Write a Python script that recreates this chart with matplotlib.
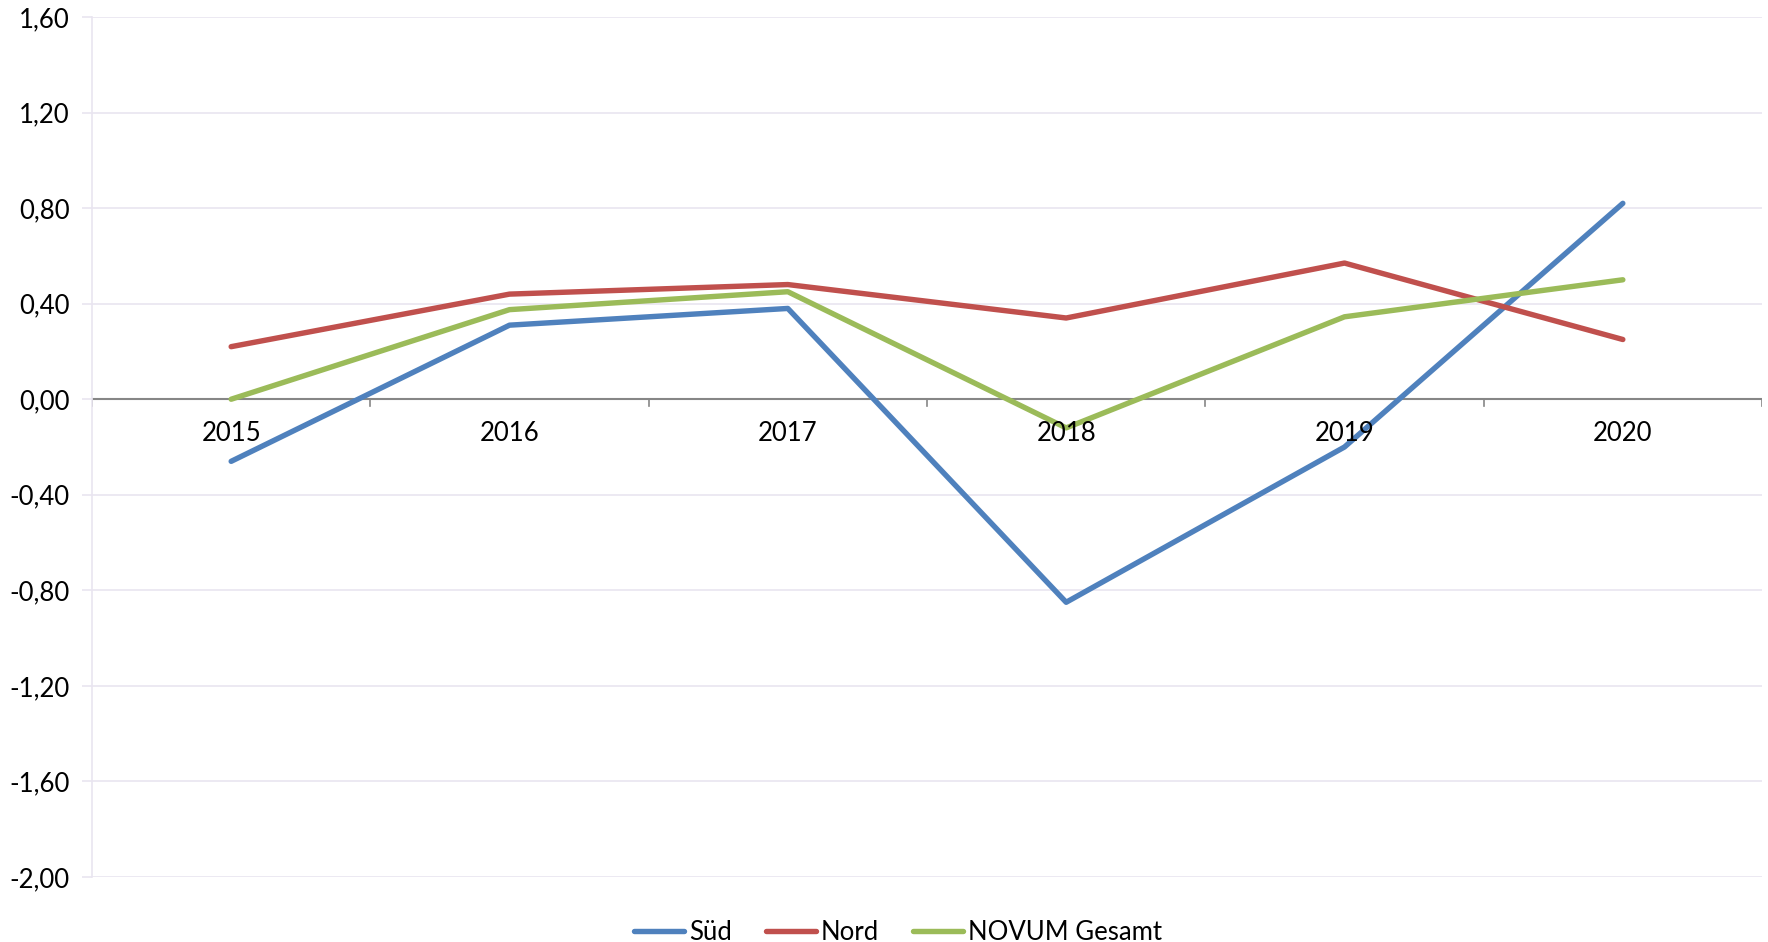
import matplotlib
matplotlib.use("Agg")
import matplotlib.pyplot as plt
from matplotlib.ticker import FixedLocator, FuncFormatter

years = ["2015", "2016", "2017", "2018", "2019", "2020"]
sued = [-0.26, 0.31, 0.38, -0.85, -0.20, 0.82]
nord = [0.22, 0.44, 0.48, 0.34, 0.57, 0.25]
gesamt = [0.00, 0.375, 0.45, -0.12, 0.345, 0.50]
y_ticks = [-2.0, -1.6, -1.2, -0.8, -0.4, 0.0, 0.4, 0.8, 1.2, 1.6]

plt.rcParams["font.family"] = ["Lato", "DejaVu Sans"]

figure = plt.figure(figsize=(17.68, 9.42), dpi=100)
axis = figure.add_axes([92 / 1768, 65 / 942, 1670 / 1768, 860 / 942])

x = list(range(len(years)))
axis.plot(x, sued, color="#4F81BD", linewidth=3.9, label="Süd", solid_capstyle="round", zorder=3)
axis.plot(x, nord, color="#C0504D", linewidth=3.9, label="Nord", solid_capstyle="round", zorder=3)
axis.plot(x, gesamt, color="#9BBB59", linewidth=3.9, label="NOVUM Gesamt", solid_capstyle="round", zorder=3)

axis.set_xlim(-0.5, len(years) - 0.5)
axis.set_ylim(-2.0, 1.6)
axis.yaxis.set_major_locator(FixedLocator(y_ticks))
axis.yaxis.set_major_formatter(FuncFormatter(lambda v, p: "{:.2f}".format(v).replace(".", ",")))
axis.grid(axis="y", color="#E9E5F0", linewidth=1.2, zorder=0)
axis.tick_params(axis="y", labelsize=18.5, length=7, color="#E9E5F0", width=1.2, pad=9)
axis.set_xticks([])

for side in ["top", "right", "bottom"]:
	axis.spines[side].set_visible(False)
axis.spines["left"].set_color("#E9E5F0")
axis.spines["left"].set_linewidth(1.2)

# zero line with category ticks hanging below
axis.axhline(0, color="#868686", linewidth=1.5, zorder=2)
for i in range(len(years) + 1):
	axis.plot([i - 0.5, i - 0.5], [0, -0.028], color="#868686", linewidth=1.2, zorder=2)
for i, year in enumerate(years):
	axis.text(i, -0.142, year, ha="center", va="center", fontsize=18.5, zorder=4)

figure.legend(loc="lower center", bbox_to_anchor=(0.508, -0.028), ncol=3, frameon=False,
	fontsize=18.5, handlelength=1.95, handletextpad=0.2, columnspacing=1.3)

figure.savefig("out.png", dpi=100)
